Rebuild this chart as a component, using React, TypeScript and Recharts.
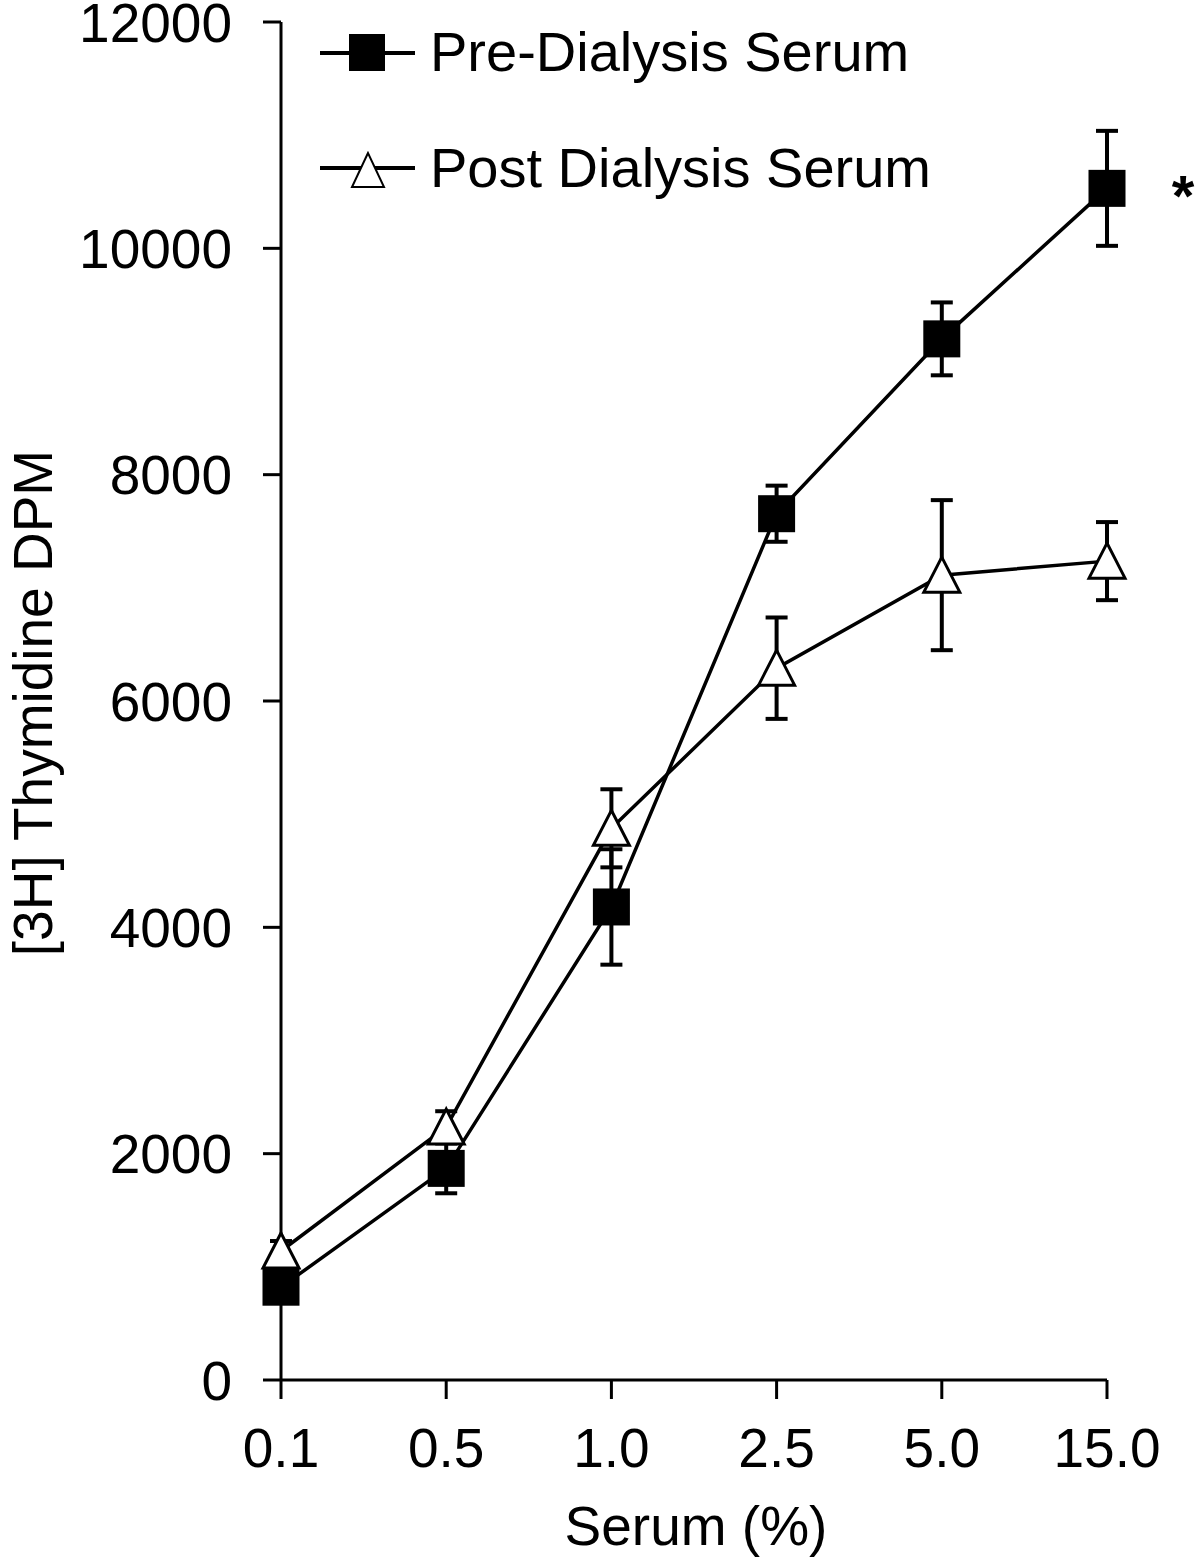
import React from 'react';
import { LineChart, Line, XAxis, YAxis, ErrorBar, ReferenceDot, Label } from 'recharts';

const categories = ['0.1', '0.5', '1.0', '2.5', '5.0', '15.0'];
const preValues = [820, 1870, 4180, 7655, 9200, 10530];
const preErrors = [120, 220, 510, 248, 322, 508];
const postValues = [1140, 2235, 4875, 6290, 7112, 7236];
const postErrors = [88, 140, 345, 448, 663, 345];
const yTicks = [0, 2000, 4000, 6000, 8000, 10000, 12000];
const seriesNames = ['Pre-Dialysis Serum', 'Post Dialysis Serum'];

const data = categories.map((c, i) => ({
  serum: c,
  pre: preValues[i],
  preErr: preErrors[i],
  post: postValues[i],
  postErr: postErrors[i],
}));

const FONT = '"Liberation Sans", Arial, sans-serif';

const SquareDot = (props: any) => {
  const { cx, cy } = props;
  if (cx == null || cy == null) return null;
  return <rect x={cx - 18.5} y={cy - 18.5} width={37} height={37} fill="#000" />;
};

const TriangleDot = (props: any) => {
  const { cx, cy } = props;
  if (cx == null || cy == null) return null;
  const pts = `${cx},${cy - 18} ${cx - 18},${cy + 17} ${cx + 18},${cy + 17}`;
  return <polygon points={pts} fill="#fff" stroke="#000" strokeWidth={3} strokeLinejoin="miter" />;
};

const LegendOverlay = () => (
  <svg width={1200} height={220} style={{ position: 'absolute', left: 0, top: 0, display: 'block', pointerEvents: 'none' }}>
    <line x1={320} y1={53} x2={415} y2={53} stroke="#000" strokeWidth={4} />
    <rect x={349} y={34} width={36} height={37} fill="#000" />
    <text x={430} y={71} fontSize={56} fontFamily={FONT} fill="#000">{seriesNames[0]}</text>
    <line x1={320} y1={168} x2={415} y2={168} stroke="#000" strokeWidth={4} />
    <polygon points="368,153 352,187 384,187" fill="#fff" stroke="#000" strokeWidth={2} />
    <text x={430} y={187} fontSize={56} fontFamily={FONT} fill="#000">{seriesNames[1]}</text>
  </svg>
);

const YTitle = (props: any) => {
  const vb = props.viewBox || { x: 0, y: 22, width: 281, height: 1358 };
  const x = vb.x + 52;
  const y = vb.y + vb.height / 2 + 2;
  return (
    <text x={x} y={y} transform={`rotate(-90 ${x} ${y})`} textAnchor="middle" fontSize={55} fontFamily={FONT} fill="#000">
      [3H] Thymidine DPM
    </text>
  );
};

const XTitle = (props: any) => {
  const vb = props.viewBox || { x: 281, y: 1380, width: 826, height: 181 };
  const x = vb.x + vb.width / 2 + 2;
  const y = vb.y + 165;
  return (
    <text x={x} y={y} textAnchor="middle" fontSize={55} fontFamily={FONT} fill="#000">
      Serum (%)
    </text>
  );
};

const Asterisk = (props: any) => {
  const vb = props.viewBox || { x: 0, y: 0 };
  return (
    <text x={vb.x + 76} y={vb.y + 28} textAnchor="middle" fontSize={58} fontWeight="bold" fontFamily={FONT} fill="#000">
      *
    </text>
  );
};

export default function App() {
  return (
    <div style={{ position: 'absolute', left: 0, top: 0, width: 1200, height: 1561, background: '#fff' }}>
      <LineChart
        width={1200}
        height={1561}
        data={data}
        margin={{ top: 22, right: 93, bottom: 0, left: 0 }}
        style={{ fontFamily: FONT }}
      >
        <XAxis
          dataKey="serum"
          type="category"
          scale="point"
          padding={{ left: 0, right: 0 }}
          height={181}
          tickSize={19}
          tickMargin={29}
          axisLine={{ stroke: '#000', strokeWidth: 3 }}
          tickLine={{ stroke: '#000', strokeWidth: 3 }}
          tick={{ fill: '#000', fontSize: 55, fontFamily: FONT }}
          interval={0}
        >
          <Label content={<XTitle />} />
        </XAxis>
        <YAxis
          width={281}
          domain={[0, 12000]}
          ticks={yTicks}
          interval={0}
          tickSize={18}
          tickMargin={31}
          axisLine={{ stroke: '#000', strokeWidth: 3 }}
          tickLine={{ stroke: '#000', strokeWidth: 3 }}
          tick={{ fill: '#000', fontSize: 55, fontFamily: FONT }}
        >
          <Label content={<YTitle />} />
        </YAxis>
        <Line
          dataKey="pre"
          stroke="#000"
          strokeWidth={3.5}
          dot={<SquareDot />}
          activeDot={false}
          isAnimationActive={false}
        >
          <ErrorBar dataKey="preErr" width={11} strokeWidth={4} stroke="#000" direction="y" />
        </Line>
        <Line
          dataKey="post"
          stroke="#000"
          strokeWidth={3.5}
          dot={<TriangleDot />}
          activeDot={false}
          isAnimationActive={false}
        />
        <Line
          dataKey="post"
          stroke="none"
          dot={false}
          activeDot={false}
          legendType="none"
          isAnimationActive={false}
        >
          <ErrorBar dataKey="postErr" width={11} strokeWidth={4} stroke="#000" direction="y" />
        </Line>
        <ReferenceDot x="15.0" y={preValues[5]} r={0} fill="none" stroke="none" label={<Asterisk />} />
      </LineChart>
      <LegendOverlay />
    </div>
  );
}
